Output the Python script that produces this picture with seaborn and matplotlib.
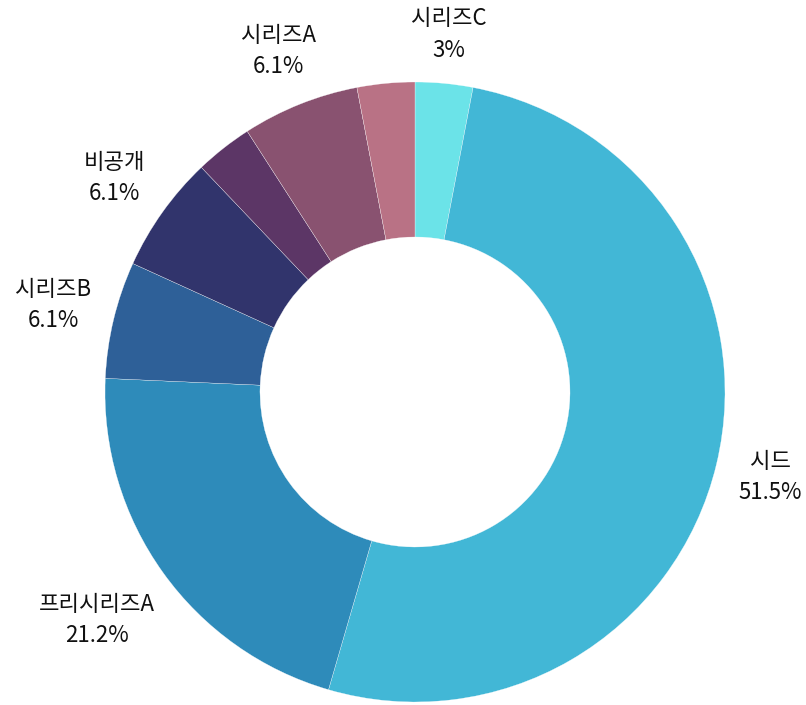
import numpy as np
import seaborn as sns
import matplotlib.pyplot as plt

# 투자 단계별 비중 (시계방향, 12시 방향부터)
stages = ["시리즈C", "시드", "프리시리즈A", "시리즈B", "비공개", "", "시리즈A", ""]
shares = [3.0, 51.5, 21.2, 6.1, 6.1, 3.0, 6.1, 3.0]
colors = ["#6be3e8", "#42b7d6", "#2e8bba", "#2e6098", "#31346c", "#5c3666", "#895270", "#b97285"]

sns.set_theme(style="white")
plt.rcParams['font.family'] = ['Noto Sans CJK KR', 'DejaVu Sans']

fig = plt.figure(figsize=(8.06, 7.05), dpi=100)
W, H = 806, 705
cx, cy, r = 415, 392, 310
ax = fig.add_axes([(cx - r) / W, (H - cy - r) / H, 2 * r / W, 2 * r / H])

wedges, _ = ax.pie(
    shares,
    colors=colors,
    startangle=90,
    counterclock=False,
    radius=1,
    wedgeprops=dict(width=0.5, edgecolor="#ffffff", linewidth=0.2),
)

ax.set_xlim(-1, 1)
ax.set_ylim(-1, 1)
ax.set_aspect("equal")
ax.axis("off")

renderer = fig.canvas.get_renderer()
for w, name, val in zip(wedges, stages, shares):
    if not name:
        continue
    ang = np.deg2rad((w.theta1 + w.theta2) / 2)
    ux, uy = np.cos(ang), np.sin(ang)
    t = ax.text(0, 0, f"{name}\n{val:g}%", ha="center", va="center",
                fontsize=16, linespacing=1.45, color="#111111")
    bb = t.get_window_extent(renderer)
    # 라벨 상자를 바깥쪽으로 밀어내기
    shift = (abs(ux) * bb.width / 2 + abs(uy) * bb.height / 2) / r
    d = 1.06 + shift
    t.set_position((d * ux, d * uy))

plt.savefig("out.png", dpi=100)
